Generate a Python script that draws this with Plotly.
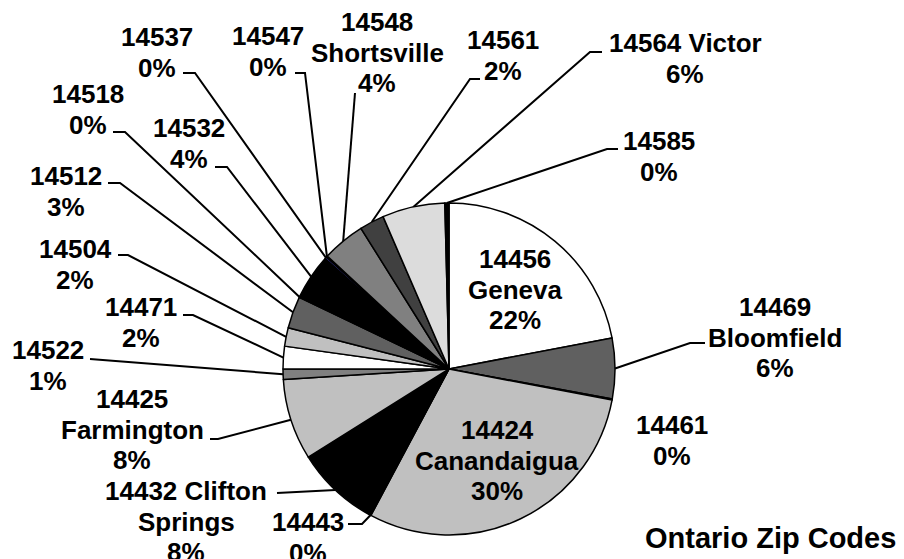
import math
import plotly.graph_objs as go

# Ontario county zip codes, in the order the slices run clockwise from 12 o'clock
zips = ["14456", "14469", "14461", "14424", "14443", "14432", "14425", "14522", "14471",
        "14504", "14512", "14518", "14532", "14537", "14547", "14548", "14561", "14564", "14585"]
names = ["Geneva", "Bloomfield", "", "Canandaigua", "", "Clifton Springs", "Farmington", "", "",
         "", "", "", "", "", "", "Shortsville", "", "Victor", ""]
shares = [22.0, 5.9, 0.1, 29.8, 0.1, 8.2, 7.9, 1.0, 2.2,
          1.8, 3.1, 0.1, 4.4, 0.2, 0.1, 4.2, 2.4, 6.1, 0.4]
colors = ["#ffffff", "#606060", "#000000", "#c0c0c0", "#000000", "#000000", "#c0c0c0", "#808080", "#ffffff",
          "#c0c0c0", "#606060", "#000000", "#000000", "#333399", "#000000", "#808080", "#404040", "#dcdcdc", "#000000"]

# label layout: text format, centre of first text line (px), leader start and elbow (px)
label_fmt = ["{z}<br>{n}<br>{p}", "{z}<br>{n}<br>{p}", "{z}<br>{p}", "{z}<br>{n}<br>{p}", "{z}<br>{p}",
             "{z} Clifton<br>Springs<br>{p}", "{z}<br>{n}<br>{p}", "{z}<br>{p}", "{z}<br>{p}",
             "{z}<br>{p}", "{z}<br>{p}", "{z}<br>{p}", "{z}<br>{p}", "{z}<br>{p}", "{z}<br>{p}",
             "{z}<br>{n}<br>{p}", "{z}<br>{p}", "{z} {n}<br>{p}", "{z}<br>{p}"]
label_pos = [(515, 259), (775, 307), (672, 425), (497, 430), (308, 522), (186, 491), (132, 399),
             (48, 350), (141, 307), (75, 249), (66, 176), (88, 94), (189, 128), (157, 37), (268, 36),
             (377, 22), (503, 40), (685, 43), (659, 141)]
leaders = [None, (705, 343, 690), None, None, (348, 524, 362), (277, 493, 277), (210, 439, 218),
           (90, 359, 90), (183, 315, 193), (118, 255, 128), (108, 183, 120), (113, 132, 125),
           (215, 167, 227), (183, 73, 195), (295, 73, 305), (355, 93, 355), (480, 79, 470),
           (602, 52, 590), (618, 149, 607)]

W, H = 904, 559
cx, cy, r = 449, 369, 166
total = sum(shares)

fig = go.Figure()

fig.add_trace(go.Pie(
    values=shares,
    labels=zips,
    sort=False,
    direction="clockwise",
    rotation=0,
    textinfo="none",
    hoverinfo="label+percent",
    marker=dict(colors=colors, line=dict(color="#000000", width=1.5)),
    domain=dict(x=[(cx - r) / W, (cx + r) / W], y=[(H - cy - r) / H, (H - cy + r) / H]),
))

# leader lines from the label to the middle of each slice's rim
lx, ly = [], []
cum = 0
for v, ld in zip(shares, leaders):
    mid = (cum + v / 2) / total * 2 * math.pi
    cum += v
    if ld is None:
        continue
    ex = cx + r * math.sin(mid)
    ey = cy - r * math.cos(mid)
    lx += [ld[0], ld[2], ex, None]
    ly += [ld[1], ld[1], ey, None]

fig.add_trace(go.Scatter(x=lx, y=ly, mode="lines", line=dict(color="#000000", width=2),
                         hoverinfo="skip", showlegend=False))

font = dict(family="Liberation Sans, Arial", size=26, color="#000000", weight="bold")
for i, z in enumerate(zips):
    pct = f"{round(shares[i] / total * 100)}%"
    text = label_fmt[i].format(z=z, n=names[i], p=pct)
    x0, y0 = label_pos[i]
    for j, line in enumerate(text.split("<br>")):
        fig.add_annotation(x=x0, y=y0 + j * 30.5, xref="x", yref="y", text=line,
                           showarrow=False, xanchor="center", yanchor="middle", font=font)

fig.add_annotation(x=770, y=538, xref="x", yref="y", text="Ontario Zip Codes", showarrow=False,
                   xanchor="center", yanchor="middle",
                   font=dict(family="Liberation Sans, Arial", size=29, color="#000000", weight="bold"))

fig.update_layout(
    width=W, height=H,
    margin=dict(l=0, r=0, t=0, b=0),
    paper_bgcolor="white", plot_bgcolor="rgba(0,0,0,0)",
    showlegend=False,
    xaxis=dict(range=[0, W], visible=False, fixedrange=True),
    yaxis=dict(range=[H, 0], visible=False, fixedrange=True),
)

fig.write_html("out.html", config={"displayModeBar": False},
               post_script="document.body.style.margin='0';document.body.style.overflow='hidden';")
